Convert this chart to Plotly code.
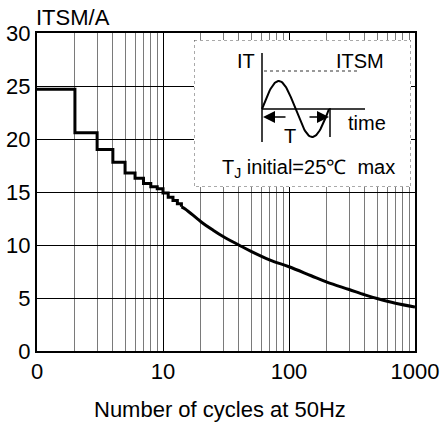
import numpy as np
import plotly.graph_objects as go

# ---- data ----
step_n = [1, 2, 3, 4, 5, 6, 7, 8, 9, 10, 11, 12, 13, 14]
step_I = [24.7, 20.6, 19.0, 17.8, 16.8, 16.3, 15.8, 15.5, 15.3, 14.9, 14.5, 14.2, 13.9, 13.6]
curve_n = [14, 15, 20, 25, 30, 40, 50, 70, 100, 150, 200, 300, 400, 500, 700, 1000]
curve_I = [13.6, 13.4, 12.2, 11.4, 10.8, 10.0, 9.4, 8.6, 7.95, 7.1, 6.5, 5.8, 5.3, 4.95, 4.5, 4.15]

x_tickvals = [1, 10, 100, 1000]
x_ticktext = ["0", "10", "100", "1000"]
y_tickvals = [0, 5, 10, 15, 20, 25, 30]
minor_vals = [m * d for d in (1, 10, 100) for m in range(2, 10)]

FONT = "Liberation Sans, Arial, sans-serif"

fig = go.Figure()
fig.add_trace(go.Scatter(x=step_n, y=step_I, mode="lines", line=dict(color="black", width=3, shape="hv"),
                         showlegend=False, hoverinfo="skip"))
fig.add_trace(go.Scatter(x=curve_n, y=curve_I, mode="lines", line=dict(color="black", width=3, shape="spline"),
                         showlegend=False, hoverinfo="skip"))

# ---- inset schematic (own axes in pixel-like units) ----
t = np.linspace(262, 329, 80)
fig.add_trace(go.Scatter(x=t, y=109 - 28 * np.sin(2 * np.pi * (t - 262) / 67), mode="lines",
                         line=dict(color="black", width=2), xaxis="x2", yaxis="y2",
                         showlegend=False, hoverinfo="skip"))

L, R, T, B = 37, 28, 33, 72
W, H = 443, 423
pw, ph = W - L - R, H - T - B
bx0, bx1, by0, by1 = 194, 411, 40, 187

fig.update_layout(
    width=W, height=H, margin=dict(l=L, r=R, t=T, b=B, autoexpand=False),
    paper_bgcolor="white", plot_bgcolor="white",
    font=dict(family=FONT, color="black"),
    xaxis=dict(type="log", range=[0, 3], tickvals=x_tickvals, ticktext=x_ticktext,
               showgrid=True, gridcolor="black", gridwidth=1,
               minor=dict(tickvals=minor_vals, showgrid=True, gridcolor="#7a7a7a", gridwidth=1.4, ticks=""),
               showline=True, linecolor="black", linewidth=2, mirror=True, ticks="",
               tickfont=dict(size=22), zeroline=False, automargin=False),
    yaxis=dict(range=[0, 30], tickvals=y_tickvals, showgrid=True, gridcolor="black", gridwidth=1,
               showline=True, linecolor="black", linewidth=2, mirror=True, ticks="",
               tickfont=dict(size=22), zeroline=False, automargin=False),
    xaxis2=dict(domain=[(bx0 - L) / pw, (bx1 - L) / pw], range=[bx0, bx1], visible=False,
                anchor="y2", fixedrange=True),
    yaxis2=dict(domain=[(H - B - by1) / ph, (H - B - by0) / ph], range=[by1, by0], visible=False,
                anchor="x2", fixedrange=True),
)

fig.add_shape(type="rect", xref="x2", yref="y2", x0=bx0, x1=bx1, y0=by0, y1=by1,
              fillcolor="white", line=dict(color="#555", width=1, dash="dot"), layer="below")
ins = dict(xref="x2", yref="y2")
fig.add_shape(type="line", x0=262, x1=262, y0=53, y1=142, line=dict(color="black", width=1.5), **ins)
fig.add_shape(type="line", x0=262, x1=365, y0=109, y1=109, line=dict(color="black", width=1.5), **ins)
fig.add_shape(type="line", x0=264, x1=360, y0=71, y1=71, line=dict(color="#333", width=1, dash="dot"), **ins)
fig.add_shape(type="line", x0=330, x1=330, y0=108, y1=137, line=dict(color="black", width=1.5), **ins)

for head, tail in ((263, 287), (329, 308)):
    fig.add_annotation(x=head, y=117, ax=tail, ay=117, axref="x2", ayref="y2", text="",
                       showarrow=True, arrowhead=2, arrowsize=1.6, arrowwidth=1.5, arrowcolor="black", **ins)

for txt, x, y in (("IT", 246, 61), ("ITSM", 360, 61), ("time", 367, 123), ("T", 290, 136),
                  ("T<sub>J</sub> initial=25℃  max", 308, 168)):
    fig.add_annotation(x=x, y=y, text=txt, showarrow=False, font=dict(size=20, color="black"), **ins)

fig.add_annotation(xref="paper", yref="paper", x=0, y=1, xanchor="left", yanchor="bottom",
                   xshift=-3, yshift=1, text="ITSM/A", showarrow=False, font=dict(size=22))
fig.add_annotation(xref="paper", yref="paper", x=0.5, y=0, yanchor="middle", yshift=-58,
                   xshift=(220 - (L + pw / 2)), text="Number of cycles at 50Hz", showarrow=False,
                   font=dict(size=22))

fig.write_html("out.html")
